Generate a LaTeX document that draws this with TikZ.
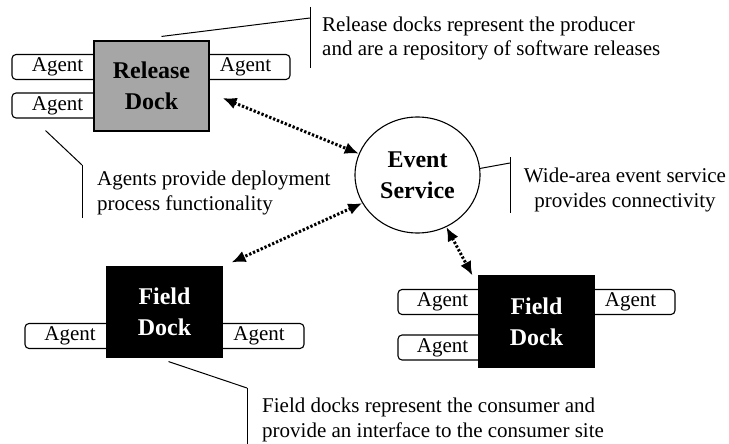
\documentclass[tikz,border=0pt]{standalone}
\usepackage{fontspec}
\setmainfont{Liberation Serif}
\usetikzlibrary{arrows.meta,shapes.geometric,calc}
\begin{document}
\begin{tikzpicture}[x=1pt,y=-1pt,
  agent/.style={draw,line width=1.1pt,rounded corners=4pt,minimum height=25pt,inner sep=0pt,font=\fontsize{21}{24}\selectfont},
  dock/.style={draw,line width=1.1pt,inner sep=0pt,minimum width=115pt,minimum height=90pt,align=center,font=\fontsize{24}{31}\selectfont\bfseries},
  reldock/.style={dock,fill=black!35},
  fielddock/.style={dock,fill=black,text=white},
  service/.style={draw,ellipse,line width=1.1pt,minimum width=125pt,minimum height=116pt,inner sep=0pt,align=center,font=\fontsize{24}{31}\selectfont\bfseries},
  link/.style={line width=3pt,dash pattern=on 2.3pt off 1.9pt,{Latex[length=14pt,width=12pt]}-{Latex[length=14pt,width=12pt]}},
  callout/.style={line width=1pt},
  note/.style={inner sep=0pt,font=\fontsize{21}{24.5}\selectfont}
]
\useasboundingbox[fill=white] (0,0) rectangle (729,444);

% agents (drawn first, docks cover their inner ends)
\node[agent,minimum width=91pt] (ra1) at (57.5,67) {Agent};
\node[agent,minimum width=91pt] (ra2) at (57.5,105.5) {Agent};
\node[agent,minimum width=89pt] (ra3) at (245.5,67) {Agent};
\node[agent,minimum width=90pt] (fa1) at (70,336) {Agent};
\node[agent,minimum width=90pt] (fa2) at (259,336) {Agent};
\node[agent,minimum width=89pt] (fb1) at (442.5,302) {Agent};
\node[agent,minimum width=89pt] (fb2) at (442.5,347.5) {Agent};
\node[agent,minimum width=89pt] (fb3) at (630.5,302) {Agent};

% docks and service
\node[reldock] (rd) at (151.5,86) {Release\\Dock};
\node[fielddock] (fd1) at (164.5,312) {Field\\Dock};
\node[fielddock,minimum height=91pt] (fd2) at (536.5,321.5) {Field\\Dock};
\node[service] (es) at (417.5,175) {Event\\Service};

% links
\draw[link] ([xshift=13pt,yshift=-12pt]rd.east) -- (es.160);
\draw[link] (es.207) -- ([xshift=9pt,yshift=4pt]fd1.north east);
\draw[link] (es.-61) -- ([xshift=-6pt]fd2.north west);

% callouts
\coordinate (c1) at (310,18);
\coordinate (c2) at (82,165);
\coordinate (c3) at (510,163);
\coordinate (c4) at (247,388);
\draw[callout] ([xshift=10pt,yshift=4pt]rd.north) -- (c1);
\draw[callout] (310,7) -- (310,68);
\node[note,anchor=west,align=left] (t1) at (322,38.5) {Release docks represent the producer\\and are a repository of software releases};

\draw[callout] ([xshift=-12pt,yshift=-12pt]ra2.south) -- (c2);
\draw[callout] (82,165) -- (82,218);
\node[note,anchor=west,align=left] (t2) at (97,193) {Agents provide deployment\\process functionality};

\draw[callout] (es.6) -- (c3);
\draw[callout] (510,157) -- (510,213);
\node[note,align=center] (t3) at (625,190) {Wide-area event service\\provides connectivity};

\draw[callout] ([xshift=4pt,yshift=-4pt]fd1.south) -- (c4);
\draw[callout] (247,388) -- (247,444);
\node[note,anchor=west,align=left] (t4) at (262,420) {Field docks represent the consumer and\\provide an interface to the consumer site};
\end{tikzpicture}
\end{document}
